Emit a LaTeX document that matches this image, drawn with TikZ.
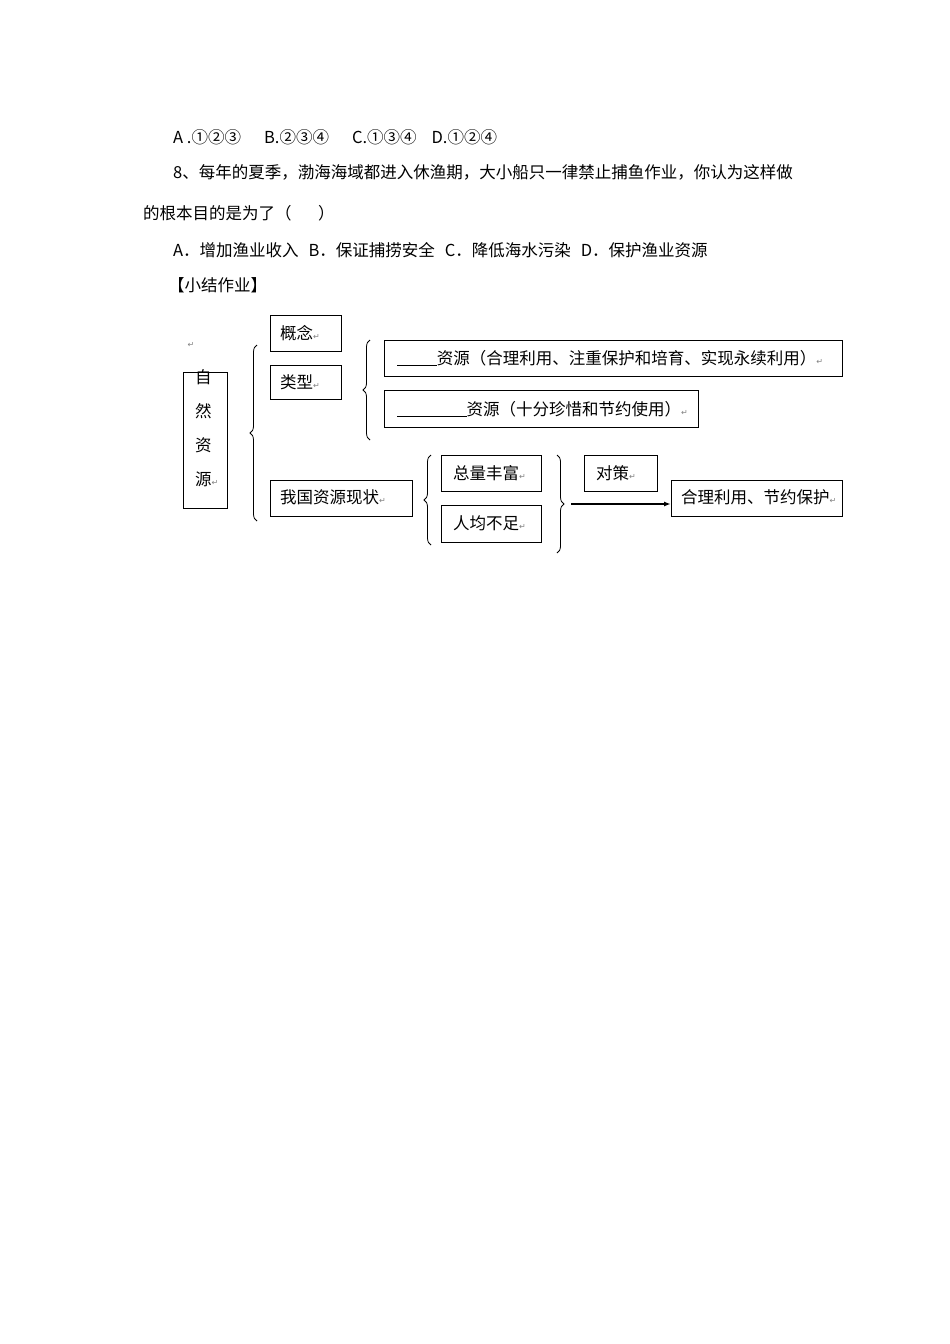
\documentclass[tikz,border=0pt]{standalone}
\usepackage{fontspec}
\setmainfont{Noto Sans CJK SC}
\newfontfamily\symf{DejaVu Sans}
\usetikzlibrary{decorations.pathreplacing,arrows.meta}
\begin{document}
\begin{tikzpicture}[x=1pt,y=-1pt,
  bx/.style={draw,line width=0.9pt,inner sep=0pt,anchor=north west},
  txt/.style={anchor=west,inner sep=0pt,font=\fontsize{16.5}{16.5}\selectfont},
  brc/.style={decorate,decoration={brace,amplitude=7pt},line width=0.8pt},
  ret/.style={font=\symf\fontsize{8}{8}\selectfont,text=gray}]
\useasboundingbox (0,0) rectangle (950,1344);
\newcommand{\rt}{{\symf\fontsize{8}{8}\selectfont\textcolor{gray}{↵}}}
% top text
\node[txt] (l1) at (173,137) {A .①②③\hspace{1.4em}B.②③④\hspace{1.4em}C.①③④\hspace{0.9em}D.①②④};
\node[txt] (l2) at (173,172) {8、每年的夏季，渤海海域都进入休渔期，大小船只一律禁止捕鱼作业，你认为这样做};
\node[txt] (l3) at (143,213) {的根本目的是为了（\hspace{1.6em}）};
\node[txt] (l4) at (173,250) {A．增加渔业收入\hspace{0.6em}B．保证捕捞安全\hspace{0.6em}C．降低海水污染\hspace{0.6em}D．保护渔业资源};
\node[txt] (l5) at (168,285) {【小结作业】};
% diagram
\node[ret] (r0) at (191,345) {↵};
\node[bx,minimum width=44pt,minimum height=136pt] (zr) at (183,372) {};
\node[txt] at (195,377) {自};
\node[txt] at (195,411) {然};
\node[txt] at (195,445) {资};
\node[txt] at (195,479) {源\rt};
\node[bx,minimum width=71pt,minimum height=36pt] (gn) at (270,315) {};
\node[txt] at (280,333) {概念\rt};
\node[bx,minimum width=71pt,minimum height=34pt] (lx) at (270,365) {};
\node[txt] at (280,382) {类型\rt};
\node[bx,minimum width=458pt,minimum height=36pt] (ba) at (384,340) {};
\node[txt] at (397,358) {\underline{\hspace{2.4em}}资源（合理利用、注重保护和培育、实现永续利用）\rt};
\node[bx,minimum width=314pt,minimum height=37pt] (bb) at (384,390) {};
\node[txt] at (397,409) {\underline{\hspace{4.2em}}资源（十分珍惜和节约使用）\rt};
\node[bx,minimum width=142pt,minimum height=36pt] (xz) at (270,480) {};
\node[txt] at (280,497) {我国资源现状\rt};
\node[bx,minimum width=100pt,minimum height=36pt] (zl) at (441,455) {};
\node[txt] at (453,473) {总量丰富\rt};
\node[bx,minimum width=100pt,minimum height=37pt] (rj) at (441,505) {};
\node[txt] at (453,523) {人均不足\rt};
\node[bx,minimum width=73pt,minimum height=36pt] (dc) at (584,455) {};
\node[txt] at (596,473) {对策\rt};
\node[bx,minimum width=171pt,minimum height=36pt] (hl) at (671,480) {};
\node[txt] at (681,497) {合理利用、节约保护\rt};
% braces
\draw[brc] (257,521) -- (257,345);
\draw[brc] (370,440) -- (370,340);
\draw[brc] (431,545) -- (431,455);
\coordinate (b4) at (571,504);
\draw[brc] (557,455) -- (557,553);
\draw[-{Latex[length=7pt,width=5pt]},line width=1.6pt] (b4) -- (b4 -| hl.west);
\end{tikzpicture}
\end{document}
